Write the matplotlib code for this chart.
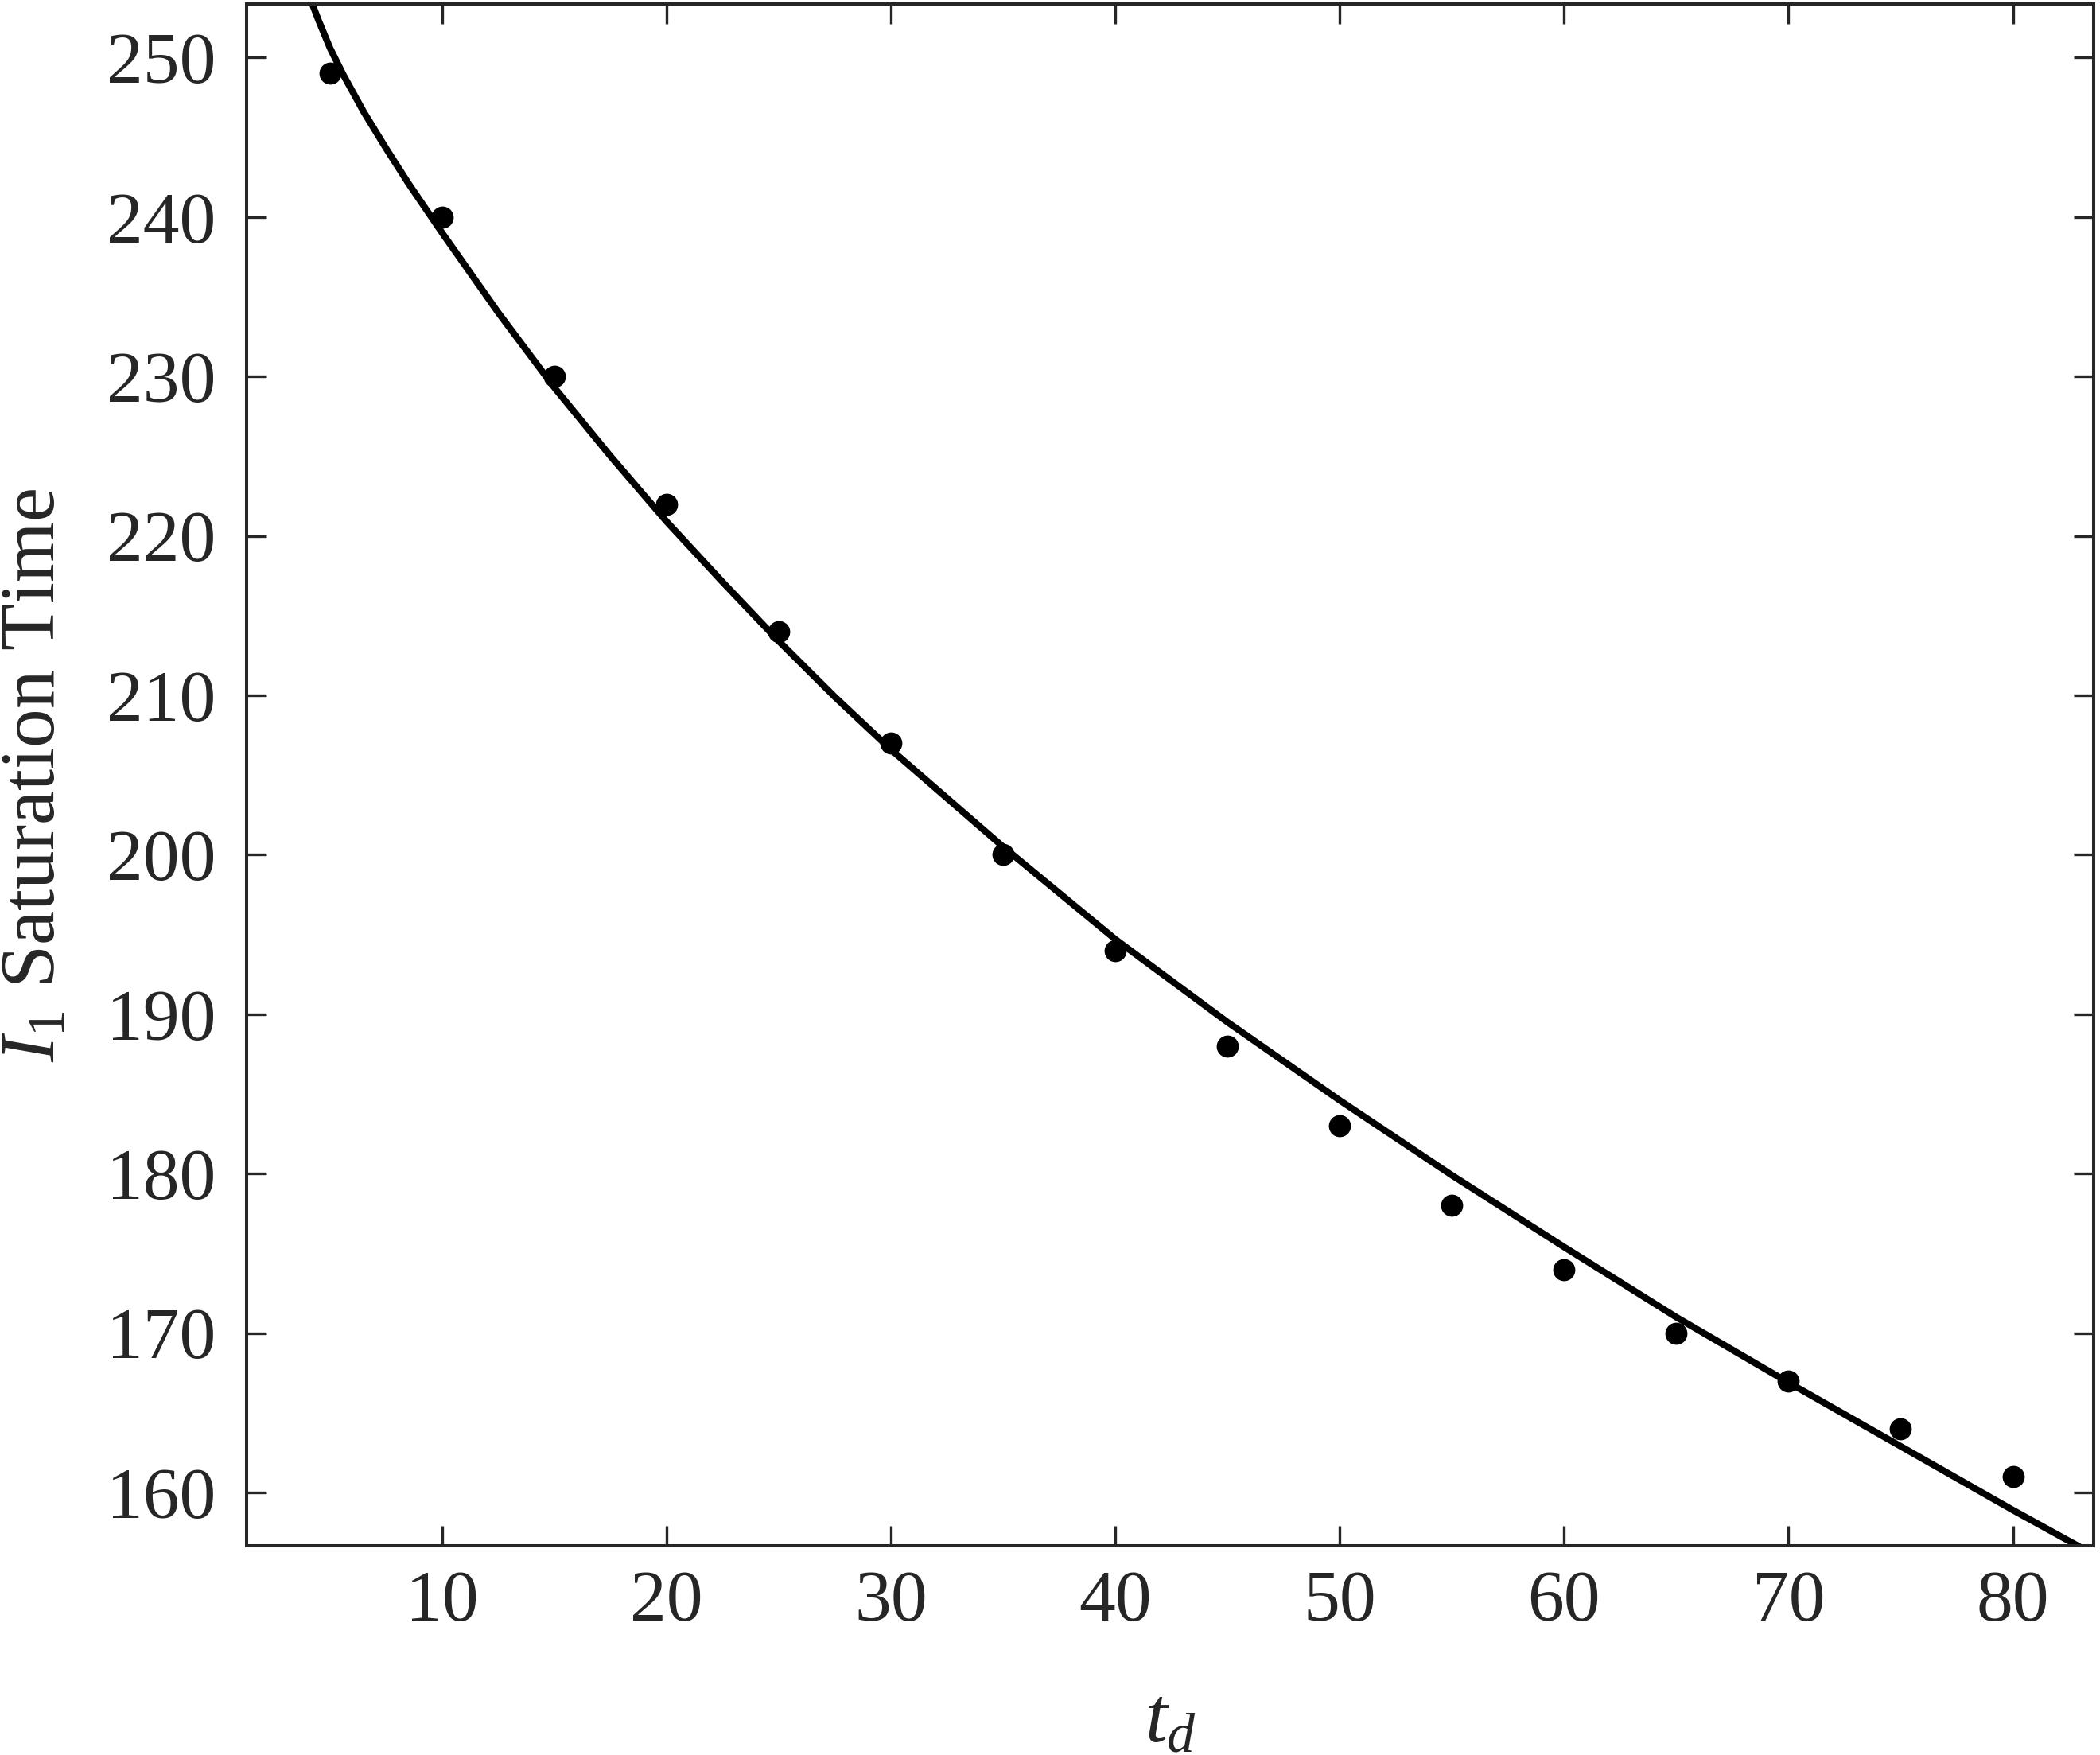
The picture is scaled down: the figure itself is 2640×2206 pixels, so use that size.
import matplotlib
matplotlib.use('Agg')
import matplotlib.pyplot as plt

# measured saturation times
td = [5, 10, 15, 20, 25, 30, 35, 40, 45, 50, 55, 60, 65, 70, 75, 80]
sat_time = [249, 240, 230, 222, 214, 207, 200, 194, 188, 183, 178, 174, 170, 167, 164, 161]

# fitted curve
fit_td = [4.2, 4.5, 5.0, 5.6, 6.5, 7.5, 8.5, 10, 12.5, 15, 17.5, 20, 22.5, 25, 27.5,
          30, 35, 40, 45, 50, 55, 60, 65, 70, 75, 80, 84]
fit_time = [253.4, 252.3, 250.6, 248.9, 246.6, 244.3, 242.1, 239.0, 234.0, 229.3,
            225.0, 220.9, 217.1, 213.4, 209.9, 206.6, 200.5, 194.7, 189.5, 184.6,
            179.9, 175.4, 171.0, 166.9, 162.9, 158.9, 155.8]

xticks = [10, 20, 30, 40, 50, 60, 70, 80]
yticks = [160, 170, 180, 190, 200, 210, 220, 230, 240, 250]

plt.rcParams['font.family'] = 'Liberation Serif'
plt.rcParams['mathtext.fontset'] = 'custom'
plt.rcParams['mathtext.rm'] = 'Liberation Serif'
plt.rcParams['mathtext.it'] = 'Liberation Serif:italic'

axcol = '#262626'

fig = plt.figure(figsize=(26.4, 22.06), dpi=100)
ax = fig.add_axes([0.1174, 0.1192, 0.8796, 0.8785])

ax.plot(fit_td, fit_time, color='black', lw=6, zorder=2, solid_joinstyle='round')
ax.plot(td, sat_time, 'o', color='black', ms=20, mew=0, zorder=3)

ax.set_xlim(1.28, 83.6)
ax.set_ylim(156.66, 253.36)
ax.set_xticks(xticks)
ax.set_yticks(yticks)

ax.tick_params(direction='in', length=18, width=2.4, color=axcol,
               labelsize=66, labelcolor=axcol, top=True, right=True)
ax.tick_params(axis='y', pad=28)
ax.tick_params(axis='x', pad=22)
for s in ax.spines.values():
    s.set_linewidth(2.9)
    s.set_color(axcol)

ax.set_xlabel('$t_d$', fontsize=72, color=axcol, va='center')
ax.xaxis.set_label_coords(0.5, -0.115)
ax.set_ylabel('$I_1$ Saturation Time', fontsize=70, color=axcol, va='center')
ax.yaxis.set_label_coords(-0.114, 0.5)

fig.savefig('out.png', dpi=100)
